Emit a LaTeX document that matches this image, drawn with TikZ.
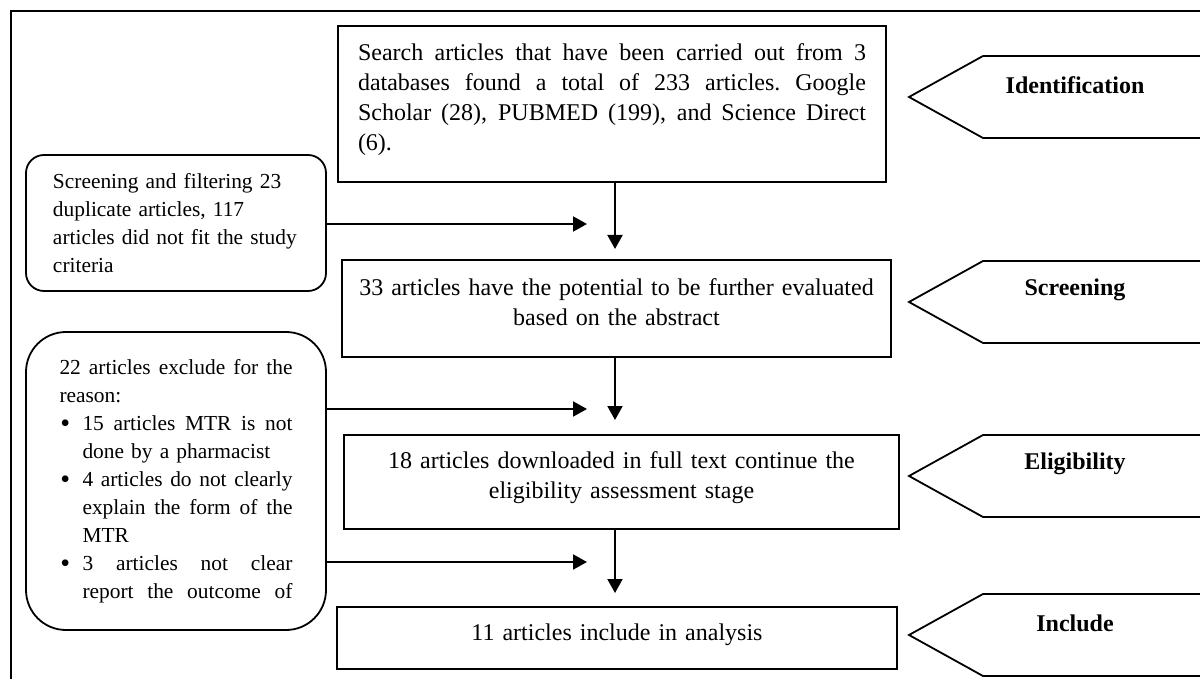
\documentclass[tikz,border=0pt]{standalone}
\usepackage{fontspec}
\setmainfont{Liberation Serif}
\usepackage{tikz}
\usetikzlibrary{calc}
\usetikzlibrary{arrows.meta}

\newcommand{\jline}[2]{\leavevmode\hbox to #1{\spaceskip=.25em plus 1fil\xspaceskip=\spaceskip\relax #2}}
\newcommand{\bitem}{\makebox[11.5pt][l]{\hspace{.5pt}\raisebox{-1pt}{\fontsize{14}{14}\selectfont\textbullet}}}
\newcommand{\bgap}{\hspace*{11.5pt}}

\begin{document}
\begin{tikzpicture}[x=.5pt, y=-.5pt,
  stage/.style={draw, line width=.9pt, inner sep=0pt},
  txt/.style={inner sep=0pt, font=\fontsize{12}{15}\selectfont},
  side/.style={draw, line width=.9pt, inner sep=0pt, align=left, font=\fontsize{10.7}{14}\selectfont},
  tag/.style={line width=.9pt},
  tagtext/.style={inner sep=0pt, font=\fontsize{12}{15}\selectfont\bfseries},
  arr/.style={line width=1pt, -{Triangle[length=7pt,width=7.5pt]}}]

\useasboundingbox (0,0) rectangle (1200,679);
\clip (0,0) rectangle (1200,679);

% frame
\draw[line width=1pt] (1210,11) -- (11,11) -- (11,690);

% main column
\node[stage, minimum width=274pt, minimum height=78pt] (search) at (612,104) {};
\node[txt, text width=254pt, align=left] (search-t) at ([yshift=2pt]search.center) {\jline{254pt}{Search articles that have been carried out from 3}\\ \jline{254pt}{databases found a total of 233 articles. Google}\\ \jline{254pt}{Scholar (28), PUBMED (199), and Science Direct}\\ (6).};

\node[stage, minimum width=274.5pt, minimum height=48.5pt] (potential) at (616.5,308.5) {};
\node[txt, text width=270pt, align=center] (potential-t) at ([yshift=3pt]potential.center) {33 articles have the potential to be further evaluated\\ based on the abstract};

\node[stage, minimum width=277.5pt, minimum height=47pt] (fulltext) at (621.5,482) {};
\node[txt, text width=270pt, align=center] (fulltext-t) at ([yshift=2.25pt]fulltext.center) {18 articles downloaded in full text continue the\\ eligibility assessment stage};

\node[stage, minimum width=280pt, minimum height=31pt] (include) at (617,638) {};
\node[txt, text width=270pt, align=center] (include-t) at ([yshift=1.75pt]include.center) {11 articles include in analysis};

% side boxes
\node[side, rounded corners=9pt, minimum width=150pt, minimum height=68pt, text width=123pt] (dup) at (176,223) {Screening and filtering 23\\ duplicate articles, 117\\ articles did not fit the study\\ criteria};

\node[side, rounded corners=20pt, minimum width=150pt, minimum height=149pt, text width=116.5pt, font=\fontsize{10.7}{14}\selectfont] (excl) at (176,481) {\jline{116.5pt}{22 articles exclude for the}\\ reason:\\ \bitem\jline{105pt}{15 articles MTR is not}\\ \bgap done by a pharmacist\\ \bitem\jline{105pt}{4 articles do not clearly}\\ \bgap\jline{105pt}{explain the form of the}\\ \bgap MTR\\ \bitem\jline{105pt}{3 articles not clear}\\ \bgap\jline{105pt}{report the outcome of}};

% arrows
\coordinate (in1) at (587,224);
\coordinate (in2) at (587,409);
\coordinate (in3) at (587,562);
\coordinate (dn1) at (615,249);
\coordinate (dn2) at (615,420);
\coordinate (dn3) at (615,593);

\draw[arr] (dup.east |- in1) -- (in1);
\draw[arr] (excl.east |- in2) -- (in2);
\draw[arr] (excl.east |- in3) -- (in3);
\draw[arr] (search.south -| dn1) -- (dn1);
\draw[arr] (potential.south -| dn2) -- (dn2);
\draw[arr] (fulltext.south -| dn3) -- (dn3);

% stage tags
\foreach \nm/\y/\lbl in {ident/97/Identification, screen/302/Screening, elig/476/Eligibility, incl/635/Include}{
  \draw[tag] (1210,\y-41) -- (983,\y-41) -- (909,\y) -- (983,\y+41) -- (1210,\y+41);
  \node[tagtext] (\nm) at (1075,\y-12) {\lbl};
}

\end{tikzpicture}
\end{document}
